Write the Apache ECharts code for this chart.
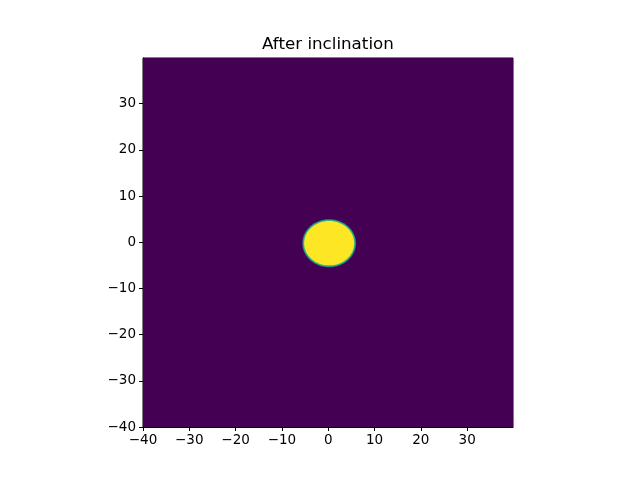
<!DOCTYPE html>
<html>
<head>
<meta charset="utf-8">
<script src="https://cdn.jsdelivr.net/npm/echarts@6/dist/echarts.min.js"></script>
<style>
  html, body { margin: 0; padding: 0; background: #fff; }
  #main { width: 640px; height: 480px; }
</style>
</head>
<body>
<div id="main"></div>
<script>
// image extent (x0, y0, x1, y1) and value of the background
var extent = [-40, -40, 39.9, 39.9];
var backgroundValue = 0;
// the disk: centre, semi-axes, value
var diskCenter = [0.2, -0.2];
var diskRadii = [5.8, 5.2];
var diskValue = 1;
// soft edge rings (inset in data units, value) drawn from outside in
var edgeRings = [[0, 0.45], [0.18, 0.7], [0.4, 1]];
var xTicks = [-40, -30, -20, -10, 0, 10, 20, 30];
var yTicks = [-40, -30, -20, -10, 0, 10, 20, 30];

// viridis stops
var viridis = ['#440154', '#482878', '#3e4989', '#31688e', '#26828e',
    '#1f9e89', '#35b779', '#6ece58', '#b5de2b', '#fde725'];
function colorOf(v) {
    var i = Math.round(v * (viridis.length - 1));
    return viridis[Math.max(0, Math.min(viridis.length - 1, i))];
}
function fmt(v) {
    if (xTicks.indexOf(v) < 0) return '';
    return v < 0 ? '\u2212' + Math.abs(v) : String(v);
}

var chart = echarts.init(document.getElementById('main'));
var font = 'DejaVu Sans';
function axis(min, max, ticks, margin) {
    return {
        type: 'value',
        min: min,
        max: max,
        interval: 10,
        axisLine: { show: true, onZero: false, lineStyle: { color: '#000', width: 1 } },
        axisTick: { show: true, length: 4, customValues: ticks, lineStyle: { color: '#000' } },
        splitLine: { show: false },
        axisLabel: { color: '#000', fontFamily: font, fontSize: 13.5, margin: margin,
            customValues: ticks, formatter: fmt }
    };
}

chart.setOption({
    animation: false,
    title: {
        text: 'After inclination',
        left: 257, top: 31,
        textStyle: { fontFamily: font, fontSize: 16.7, fontWeight: 'normal', color: '#000' }
    },
    grid: {
        left: 143, top: 58, width: 370, height: 369,
        show: true, borderColor: '#000', borderWidth: 1, backgroundColor: 'transparent'
    },
    xAxis: axis(extent[0], extent[2], xTicks, 6),
    yAxis: axis(extent[1], extent[3], yTicks, 7),
    series: [{
        type: 'custom',
        clip: true,
        z: 1,
        data: [[extent[0], extent[1], extent[2], extent[3], backgroundValue]],
        renderItem: function (params, api) {
            var p0 = api.coord([api.value(0), api.value(1)]);
            var p1 = api.coord([api.value(2), api.value(3)]);
            return {
                type: 'rect',
                shape: { x: p0[0], y: p1[1], width: p1[0] - p0[0], height: p0[1] - p1[1] },
                style: { fill: colorOf(api.value(4)) }
            };
        }
    }, {
        type: 'custom',
        clip: true,
        z: 2,
        data: edgeRings.map(function (r) {
            return [diskCenter[0], diskCenter[1], diskRadii[0] - r[0], diskRadii[1] - r[0], r[1] * diskValue];
        }),
        renderItem: function (params, api) {
            var c = api.coord([api.value(0), api.value(1)]);
            var s = api.size([api.value(2), api.value(3)]);
            return {
                type: 'ellipse',
                shape: { cx: c[0], cy: c[1], rx: s[0], ry: s[1] },
                style: { fill: colorOf(api.value(4)) }
            };
        }
    }]
});
</script>
</body>
</html>
